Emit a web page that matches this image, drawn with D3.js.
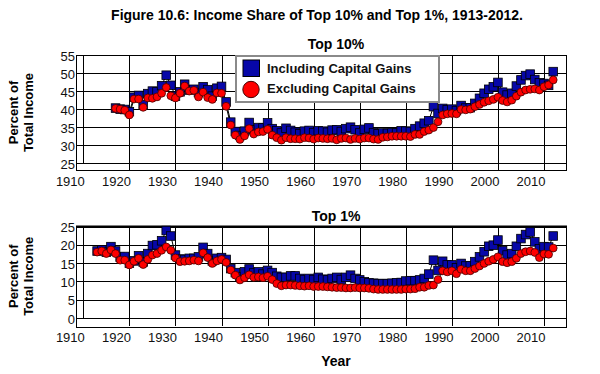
<!DOCTYPE html>
<html>
<head>
<meta charset="utf-8">
<script src="https://cdn.jsdelivr.net/npm/d3@7/dist/d3.min.js"></script>
<style>
body { margin: 0; background: #fff; }
text { font-family: Arial, "Liberation Sans", sans-serif; }
</style>
</head>
<body>
<div id="chart1"></div>
<script>
// Data, percent of total income
var top10Start = 1917;
var top10Incl = [40.3,40.0,39.9,39.3,43.3,43.8,41.2,44.3,45.0,44.8,
	46.5,49.4,46.6,43.6,44.8,46.9,45.3,45.5,44.6,46.2,
	45.4,43.6,45.8,46.3,42.0,36.4,33.8,32.7,33.9,36.3,
	34.3,34.9,34.8,36.2,34.6,34.0,33.4,34.7,34.1,33.6,
	33.2,33.9,34.1,33.5,34.0,33.9,33.6,34.2,34.3,33.8,
	34.6,35.0,34.3,33.4,34.4,34.8,33.5,33.2,33.4,33.3,
	33.5,33.4,34.0,33.9,33.8,34.6,35.3,36.1,36.8,40.7,
	38.8,40.2,39.8,40.0,39.6,41.0,40.3,40.4,41.6,43.0,
	44.4,45.5,46.2,47.4,44.7,43.9,44.4,46.4,48.1,49.3,
	49.7,48.2,47.3,47.1,46.6,50.4];
var top10Excl = [40.2,40.0,39.7,38.4,42.8,42.8,40.5,43.1,43.0,43.4,
	44.4,46.0,43.7,43.1,44.4,46.4,45.0,45.2,43.4,44.7,
	43.2,42.7,44.5,44.4,40.8,35.6,32.8,31.6,32.6,34.6,
	33.1,33.7,33.8,34.4,32.8,32.1,31.4,32.1,31.8,31.8,
	31.7,32.1,32.0,31.7,32.0,31.9,31.8,31.9,31.5,31.9,
	32.0,31.6,31.9,31.7,32.0,32.0,31.7,31.6,32.2,32.3,
	32.5,32.5,32.5,32.5,32.4,33.0,33.0,33.8,34.2,34.9,
	36.5,38.4,38.7,38.8,38.7,39.9,39.8,40.0,40.7,41.3,
	41.9,42.3,42.7,43.3,42.4,42.0,42.5,43.6,44.7,45.3,
	45.5,45.6,45.3,46.2,46.7,48.1];
var top1Start = 1913;
var top1Incl = [18.3,18.6,18.0,19.5,18.3,16.6,16.8,15.0,15.6,17.0,
	15.3,17.6,19.8,20.0,21.1,23.9,22.4,17.2,16.1,16.0,
	16.3,16.3,16.7,19.3,17.6,15.6,16.3,16.5,16.0,13.5,
	12.4,11.3,12.6,13.4,12.3,12.6,12.0,13.0,12.4,11.4,
	11.1,11.1,11.5,11.5,10.8,10.5,10.8,10.5,11.1,10.6,
	10.4,10.8,11.1,10.5,11.1,11.7,10.8,10.4,9.9,9.6,
	9.5,9.4,9.4,9.4,9.5,9.6,9.7,10.1,10.2,10.2,
	10.4,10.8,12.0,15.8,13.0,15.5,14.5,14.5,13.7,14.9,
	14.2,14.3,15.4,16.7,18.1,19.6,19.9,21.3,18.4,17.2,
	17.6,19.6,21.7,22.8,23.5,20.8,18.9,19.5,19.4,22.4];
var top1Excl = [18.0,18.3,17.6,18.6,17.6,15.8,15.8,14.5,15.5,16.3,
	14.6,16.0,17.2,17.6,18.5,19.4,18.5,16.4,15.4,15.5,
	15.6,15.8,15.6,17.8,16.5,14.9,15.6,16.0,15.2,13.1,
	11.7,10.4,11.0,11.8,11.1,11.2,11.0,11.4,10.5,9.4,
	8.8,9.0,9.0,8.9,8.8,8.7,8.8,8.6,8.6,8.6,
	8.5,8.4,8.3,8.3,8.2,8.2,8.3,8.2,8.2,8.1,
	7.9,7.8,7.8,7.8,7.8,7.8,7.8,7.9,7.9,8.0,
	8.4,8.4,8.9,9.0,10.5,12.9,12.6,12.9,12.1,13.3,
	12.9,12.9,13.5,14.2,14.9,15.5,16.0,16.7,15.4,15.1,
	15.4,16.3,17.6,18.1,18.3,17.9,16.5,17.5,17.4,19.1];
var decadeTicks = [1910,1920,1930,1940,1950,1960,1970,1980,1990,2000,2010];
var top10Ticks = [25,30,35,40,45,50,55];
var top1Ticks = [0,5,10,15,20,25];
var seriesNames = ["Including Capital Gains", "Excluding Capital Gains"];

var chartConfig = {
	width : 600,
	height : 374,
	frameLeft : 76,
	frameRight : 566,
	inclColor : "#0707a8",
	exclColor : "#ff0000"
}

var panels = [
	{ title : "Top 10%", titleY : 49, ticks : top10Ticks, domain : [25,55], range : [163.3,55],
		top : 55, bottom : 170, xLabelY : 189, start : top10Start, incl : top10Incl, excl : top10Excl },
	{ title : "Top 1%", titleY : 221, ticks : top1Ticks, domain : [0,25], range : [318,226.5],
		top : 226.5, bottom : 326, xLabelY : 345, start : top1Start, incl : top1Incl, excl : top1Excl }
];

var xScale = d3.scaleLinear().domain([1910,2010]).range([83.3,544]);

var svg1 = d3.select("#chart1").append("svg")
	.attr("width", chartConfig.width)
	.attr("height", chartConfig.height)
	;

svg1.append("text")
	.attr("x", 317)
	.attr("y", 20)
	.attr("text-anchor", "middle")
	.style("font-size", "14px")
	.style("font-weight", "bold")
	.text("Figure 10.6: Income Share of Top 10% and Top 1%, 1913-2012.")
	;

panels.forEach(function(p, pi) {
	var y = d3.scaleLinear().domain(p.domain).range(p.range);
	var g = svg1.append("g");
	var toPoints = function(vals) {
		return vals.map(function(v, i) { return { year : p.start + i, v : v }; });
	};
	var inclPts = toPoints(p.incl);
	var exclPts = toPoints(p.excl);

	// grid
	g.selectAll("line.hg")
		.data(p.ticks)
		.enter().append("line")
		.attr("x1", chartConfig.frameLeft)
		.attr("x2", chartConfig.frameRight)
		.attr("y1", function(d) { return Math.round(y(d)) + 0.5; })
		.attr("y2", function(d) { return Math.round(y(d)) + 0.5; })
		.attr("stroke", "#000")
		;
	g.selectAll("line.vg")
		.data(decadeTicks)
		.enter().append("line")
		.attr("x1", function(d) { return Math.round(xScale(d)) + 0.5; })
		.attr("x2", function(d) { return Math.round(xScale(d)) + 0.5; })
		.attr("y1", p.top)
		.attr("y2", function(d) { return d === 1910 ? y(p.domain[0]) : p.bottom; })
		.attr("stroke", "#000")
		;
	g.append("rect")
		.attr("x", chartConfig.frameLeft + 0.5)
		.attr("y", Math.round(p.top) + 0.5)
		.attr("width", chartConfig.frameRight - chartConfig.frameLeft)
		.attr("height", Math.round(p.bottom - p.top))
		.attr("fill", "none")
		.attr("stroke", "#000")
		;
	if (pi === 1) {
		g.append("line")
			.attr("x1", chartConfig.frameLeft)
			.attr("x2", chartConfig.frameRight + 1)
			.attr("y1", p.top)
			.attr("y2", p.top)
			.attr("stroke", "#000")
			.attr("stroke-width", 2)
			;
	}

	// axes (labels only)
	var yAxis = g.append("g")
		.attr("transform", "translate(" + (chartConfig.frameLeft - 1) + ",1)")
		.call(d3.axisLeft(y).tickValues(p.ticks).tickSize(0).tickPadding(0))
		;
	var xAxis = g.append("g")
		.attr("transform", "translate(1," + (p.xLabelY - 12) + ")")
		.call(d3.axisBottom(xScale).tickValues(decadeTicks).tickFormat(d3.format("d")).tickSize(0).tickPadding(0))
		;
	[yAxis, xAxis].forEach(function(a) {
		a.select(".domain").remove();
		a.selectAll("text")
			.style("font-size", "13px")
			.style("font-family", "Arial, 'Liberation Sans', sans-serif")
			.attr("fill", "#111");
	});
	xAxis.selectAll("text").attr("text-anchor", "end").attr("dy", "0.71em");

	// panel title and y title
	g.append("text")
		.attr("x", 336)
		.attr("y", p.titleY)
		.attr("text-anchor", "middle")
		.style("font-size", "14px")
		.style("font-weight", "bold")
		.text(p.title)
		;
	var yMid = (p.top + p.bottom) / 2;
	var yt = g.append("text")
		.attr("transform", "translate(0," + yMid + ") rotate(-90)")
		.attr("text-anchor", "middle")
		.style("font-size", "13px")
		.style("font-weight", "bold")
		;
	yt.append("tspan").attr("x", 0).attr("y", 18).text("Percent of");
	yt.append("tspan").attr("x", 0).attr("y", 33).text("Total Income");

	// connecting lines
	var line = d3.line()
		.x(function(d) { return xScale(d.year); })
		.y(function(d) { return y(d.v); })
		;
	g.append("path").datum(inclPts)
		.attr("d", line).attr("fill", "none").attr("stroke", "#000").attr("stroke-width", 1);
	g.append("path").datum(exclPts)
		.attr("d", line).attr("fill", "none").attr("stroke", "#000").attr("stroke-width", 1);

	// markers
	g.selectAll("rect.incl")
		.data(inclPts)
		.enter().append("rect")
		.attr("x", function(d) { return xScale(d.year) - 4.3; })
		.attr("y", function(d) { return y(d.v) - 4.3; })
		.attr("width", 8.6)
		.attr("height", 8.6)
		.attr("fill", chartConfig.inclColor)
		.attr("stroke", "#000")
		.attr("stroke-width", 0.8)
		;
	g.selectAll("circle.excl")
		.data(exclPts)
		.enter().append("circle")
		.attr("cx", function(d) { return xScale(d.year); })
		.attr("cy", function(d) { return y(d.v); })
		.attr("r", 3.9)
		.attr("fill", chartConfig.exclColor)
		.attr("stroke", "#400")
		.attr("stroke-width", 0.8)
		;
});

// x title
svg1.append("text")
	.attr("x", 336)
	.attr("y", 366)
	.attr("text-anchor", "middle")
	.style("font-size", "14px")
	.style("font-weight", "bold")
	.text("Year")
	;

// legend
var legend = svg1.append("g");
legend.append("rect")
	.attr("x", 236)
	.attr("y", 56)
	.attr("width", 203)
	.attr("height", 46)
	.attr("fill", "#fff")
	.attr("stroke", "#8a8a8a")
	.attr("stroke-width", 2)
	;
legend.append("rect")
	.attr("x", 243)
	.attr("y", 60)
	.attr("width", 16.5)
	.attr("height", 16.5)
	.attr("fill", chartConfig.inclColor)
	.attr("stroke", "#000")
	;
legend.append("circle")
	.attr("cx", 251)
	.attr("cy", 89.5)
	.attr("r", 8.2)
	.attr("fill", chartConfig.exclColor)
	.attr("stroke", "#400")
	;
legend.selectAll("text.lg")
	.data(seriesNames)
	.enter().append("text")
	.attr("x", 267)
	.attr("y", function(d, i) { return 73 + i * 20; })
	.style("font-size", "13px")
	.style("font-weight", "bold")
	.attr("fill", "#111")
	.text(function(d) { return d; })
	;
</script>
</body>
</html>
